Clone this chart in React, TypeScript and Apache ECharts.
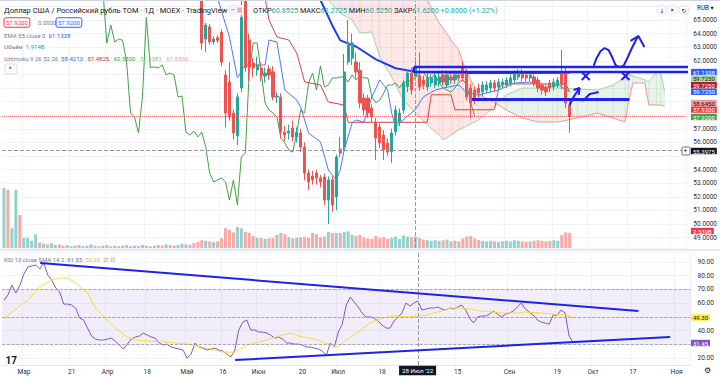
import React, { useEffect, useRef } from "react";
import * as echarts from "echarts";

// ---------- axes / categories ----------
const N = 173; // trading-day slots on the time axis (incl. future cloud area)
const categories: string[] = Array.from({ length: N }, (_, i) => String(i));
const xTicks: [number, string][] = [
  [5, "Мар"], [17, "21"], [26, "Апр"], [36, "18"], [46, "Май"], [55, "16"],
  [64, "Июн"], [75, "20"], [84, "Июл"], [95, "18"], [114, "15"], [127, "Сен"],
  [139, "19"], [148, "Окт"], [158, "17"], [169, "Ноя"],
];
const hiddenPriceTicks: number[] = [55, 58, 59, 60, 61];
const hiddenRsiTicks: number[] = [30, 50];
const crosshairIdx = 104;
const crosshairPrice = 55.3975;
const lastPrice = 57.92;

// ---------- candles (open, close, low, high), first index = candleStart ----------
const candleStart = 49;
const candles: number[][] = [
  [68.8, 67.2, 66.9, 69.2], [66.8, 63.3, 62.8, 67.2], [63.6, 64.63, 62.65, 64.78], [64.49, 63.38, 63.2, 64.7],
  [63.4, 63.6, 63.2, 63.8], [63.7, 63.5, 63.3, 63.9], [64.1, 61.9, 61.6, 64.3], [60.96, 58.16, 57.1, 61.3],
  [60.44, 57.87, 57.6, 61.9], [58.16, 56.69, 56.2, 58.4], [56.47, 59.34, 55.8, 59.6], [60.0, 65.2, 59.7, 66.6],
  [66.4, 61.5, 61.2, 67.0], [63.53, 61.54, 60.5, 64.0], [61.84, 61.47, 60.8, 62.2], [61.32, 61.69, 60.9, 62.3],
  [61.47, 60.96, 60.5, 61.9], [60.88, 61.1, 60.4, 61.5], [61.4, 60.96, 60.6, 61.7], [61.18, 59.34, 59.1, 61.6],
  [59.34, 59.41, 58.9, 59.7], [59.34, 56.76, 56.3, 59.6], [56.76, 56.54, 56.1, 57.2], [56.69, 56.84, 56.2, 57.3],
  [57.06, 56.4, 56.1, 57.6], [56.4, 56.76, 56.0, 57.1], [56.69, 55.66, 55.3, 57.0], [55.66, 53.75, 53.2, 56.0],
  [53.75, 53.09, 52.5, 54.0], [53.53, 53.24, 52.9, 53.9], [53.75, 53.38, 52.9, 54.0], [53.38, 53.09, 52.7, 53.6],
  [53.46, 51.76, 51.4, 53.7], [51.76, 53.24, 50.0, 53.5], [53.24, 51.4, 50.9, 53.5], [51.99, 54.93, 51.0, 55.1],
  [55.5, 55.2, 54.9, 56.4], [55.66, 61.18, 55.4, 62.5], [61.91, 63.31, 61.7, 65.0], [62.2, 63.31, 61.7, 64.0],
  [61.91, 61.18, 60.7, 62.6], [61.3, 58.9, 58.5, 61.9], [59.26, 58.38, 58.0, 59.6], [59.26, 58.16, 57.8, 59.5],
  [58.53, 57.87, 57.5, 58.8], [57.43, 56.32, 54.7, 57.8], [57.13, 55.96, 55.6, 57.4], [56.54, 55.44, 54.7, 56.9],
  [55.96, 55.29, 55.0, 56.3], [55.29, 56.69, 54.5, 57.0], [56.8, 58.38, 56.5, 58.7], [57.5, 58.16, 57.2, 58.5],
  [58.38, 60.37, 58.1, 60.6], [60.1, 61.1, 59.7, 61.4], [61.1, 59.85, 59.5, 61.5], [60.8525, 61.62, 60.525, 62.2725],
  [60.9, 60.07, 59.8, 62.6], [60.59, 60.22, 59.9, 60.9], [60.07, 60.74, 59.8, 61.1], [60.37, 60.74, 60.1, 61.0],
  [60.22, 60.81, 60.0, 61.1], [60.37, 60.81, 60.1, 61.1], [60.96, 60.44, 60.2, 61.3], [60.22, 60.96, 60.0, 61.3],
  [60.81, 60.59, 60.3, 61.2], [60.59, 60.96, 60.3, 61.3], [60.96, 60.74, 60.5, 61.2], [61.54, 60.74, 60.5, 61.93],
  [61.1, 59.34, 59.1, 61.4], [60.0, 58.9, 57.8, 60.3], [59.85, 59.12, 58.8, 60.1], [60.0, 59.63, 59.3, 60.3],
  [59.7, 60.22, 59.4, 60.5], [59.85, 60.22, 59.6, 60.5], [60.0, 60.37, 59.7, 60.6], [60.37, 60.0, 59.7, 60.6],
  [60.07, 60.44, 59.8, 60.7], [60.22, 60.44, 60.0, 60.7], [60.22, 60.59, 60.0, 60.8], [60.37, 60.74, 60.1, 61.0],
  [60.59, 61.1, 60.4, 61.3], [60.81, 61.18, 60.6, 61.4], [61.1, 60.74, 60.5, 61.4], [60.96, 60.74, 60.5, 61.2],
  [60.74, 60.96, 60.5, 61.2], [60.81, 60.37, 60.1, 61.0], [60.59, 60.0, 59.7, 60.8], [60.22, 59.85, 59.5, 60.4],
  [60.07, 59.7, 59.4, 60.3], [60.37, 60.0, 59.7, 60.6], [60.07, 60.44, 59.8, 60.7], [60.22, 60.59, 60.0, 60.8],
  [61.1, 60.22, 59.9, 62.8], [61.1, 58.9, 58.5, 61.5], [58.75, 57.92, 56.7, 59.0],
];

// ---------- volume (billions) ----------
// days before the first visible candle, index 0..48
const volumesEarly: number[] = [
  10.0, 9.7, 3.3, 9.7, 5.5, 1.7, 1.7, 1.2, 2.3,
  0.9, 0.7, 0.6, 0.8, 0.5, 0.6, 0.4, 0.5, 0.3, 0.4, 0.5, 0.3, 0.4, 0.6, 0.4, 0.3, 0.4, 0.5, 0.3, 0.4,
  0.3, 0.4, 0.5, 0.3, 0.4, 0.3, 0.5, 0.4, 0.3, 0.4, 0.5, 0.4, 0.6, 0.5, 0.4, 0.5, 0.7, 0.6, 0.5, 0.8,
];
// bar direction for those days (1 = up)
const volUpEarly: number[] = [
  1, 0, 1, 1, 0, 1, 1, 1, 1, 0, 1, 0, 1, 1, 0, 0, 1, 1, 0, 1, 0, 1, 1, 0, 1, 0, 0, 1, 1,
  0, 1, 0, 1, 1, 0, 1, 0, 0, 1, 1, 0, 1, 0, 0, 1, 1, 0, 1, 0,
];
// days with a candle, index 49..143
const volumesLate: number[] = [
  1.0, 1.3, 1.2, 1.1, 1.0, 1.1, 1.6, 3.3, 3.0, 2.6, 3.5, 3.3, 2.7, 2.5, 2.0, 1.7, 1.7, 1.5, 1.6, 1.7,
  2.2, 2.5, 2.3, 1.8, 1.6, 1.7, 1.8, 1.8, 1.7, 2.5, 2.3, 1.8, 1.9, 2.7, 2.5, 2.5, 2.5, 2.7, 2.8, 2.2,
  2.0, 2.2,
  1.8, 1.6, 1.5, 2.0, 1.7, 1.8, 1.5, 1.7, 1.9, 1.5, 2.1, 1.9, 1.8, 1.914, 1.7, 1.4, 1.3, 1.2, 1.3, 1.2,
  1.3, 1.4, 1.1, 1.2, 1.1, 1.6, 1.9, 2.0, 1.6, 1.3, 1.2, 1.1, 1.2, 1.1, 1.0, 1.1, 1.2, 1.1, 1.3, 1.2,
  1.1, 1.0, 1.1, 1.2, 1.3, 1.2, 1.1, 1.2, 1.3, 1.2, 2.2, 2.6, 2.539,
];

// ---------- indicators (vertex lists [index, value]) ----------
const ema55: number[][] = [
  [77, 67.3], [80, 66.47], [83, 64.6], [85, 63.5], [89, 63.05], [94, 62.1], [99, 61.45],
  [104, 61.2], [117, 61.1], [130, 61.1], [143, 61.13],
];
const tenkan: number[][] = [
  [54, 66.6], [57, 63.75], [59, 60.74], [61, 61.69], [66, 61.69], [67, 63.53], [69, 63.38], [71, 59.85],
  [74, 59.12], [75, 58.6], [77, 56.69], [80, 56.03], [82, 53.97], [84, 53.24], [85, 53.97], [86, 55.44],
  [88, 57.43], [89, 57.65], [91, 57.5], [93, 59.34], [95, 60.59], [97, 59.85], [98, 58.16], [99, 57.13],
  [100, 57.43], [104, 58.42], [106, 59.34], [109, 59.85], [111, 60.0], [115, 60.22], [117, 59.63],
  [120, 59.49], [125, 59.85], [129, 60.37], [133, 60.44], [137, 60.0], [140, 60.22], [143, 59.725],
];
const kijun: number[][] = [
  [66, 66.6], [67, 65.0], [69, 63.75], [72, 63.53], [74, 62.57], [75, 61.54], [76, 60.44], [80, 60.22],
  [82, 58.97], [86, 58.75], [87, 57.48], [107, 57.48], [108, 59.5], [113, 59.5], [114, 58.4], [124, 58.4],
  [125, 59.9], [126, 60.3], [142, 60.3], [143, 59.725],
];
const chikouShift = 24;
const cloudIdx: number[] = [79, 82, 85, 88, 90, 93, 95, 98, 101, 105, 107, 110, 111, 113, 115, 116, 118, 120,
  123, 127, 131, 135, 140, 145, 150, 154, 157, 158, 159, 162, 163, 165, 166, 167];
const leadA: number[] = [67.5, 66.47, 65.51, 65.0, 64.04, 64.12, 62.28, 60.81, 59.12, 57.87, 57.28, 56.54, 56.18,
  56.54, 56.91, 57.06, 57.35, 57.65, 58.38, 59.49, 60.0, 60.0, 60.0, 59.93, 59.85, 60.22, 60.81, 60.96, 60.88,
  60.59, 60.44, 61.18, 61.18, 59.725];
const leadB: number[] = [68.5, 68.4, 68.3, 68.2, 68.1, 68.0, 68.0, 67.9, 67.85, 67.83, 66.47, 64.78, 64.41,
  63.53, 62.79, 61.84, 60.59, 59.49, 59.12, 58.38, 57.79, 57.5, 57.5, 57.79, 58.16, 57.79, 57.5, 59.12, 60.37,
  60.37, 58.75, 58.75, 58.75, 58.645];

// ---------- RSI ----------
const rsi: number[] = [
  62, 66, 73.2, 67.4, 73.2, 81.2, 86.4, 87.1, 87.8, 84.9,
  89.3, 80.5, 76.9, 71.0, 68.1, 59.3, 59.3, 58.6, 56.4, 49.1,
  47.7, 41.8, 36.0, 33.8, 33.1, 33.1, 33.8, 34.5, 32.3, 29.4,
  26.5, 30.1, 33.8, 35.3, 36.0, 38.2, 36.7, 35.3, 34.5, 30.9,
  29.4, 30.1, 28.0, 27.2, 26.5, 25.8, 19.9, 22.8, 30.9, 28.0,
  27.2, 25.8, 26.5, 27.2, 25.8, 25.0, 22.8, 20.7, 25.8, 40.4,
  46.2, 47.7, 40.4, 40.4, 38.9, 38.9, 38.2, 36.7, 34.5, 35.3,
  33.8, 30.9, 30.9, 30.1, 30.1, 29.4, 28.0, 28.0, 27.2, 26.5,
  25.0, 22.1, 30.9, 28.0, 38.9, 44.7, 58.6, 64.5, 60.8, 57.2,
  52.8, 49.9, 49.9, 49.1, 46.9, 44.0, 41.8, 41.8, 46.9, 49.9,
  52.8, 60.1, 57.9, 60.1, 61.55, 55.0, 55.7, 56.4, 56.4, 57.2,
  55.7, 55.0, 56.4, 55.7, 57.2, 58.6, 55.0, 49.1, 45.5, 49.9,
  50.6, 50.6, 52.0, 54.2, 52.0, 49.9, 52.0, 52.8, 54.2, 57.2,
  60.1, 55.7, 53.5, 51.3, 47.7, 46.2, 45.5, 44.7, 51.3, 51.3,
  55.0, 52.8, 36.0, 31.45,
];
const rsiSma: number[][] = [
  [0, 49.1], [2, 53.5], [6, 62.3], [9, 71.8], [12, 76.9], [14, 78.3], [16, 78.3], [18, 74.7], [21, 67.4],
  [23, 56.4], [26, 47.7], [28, 41.8], [31, 35.3], [33, 33.1], [37, 32.3], [41, 31.6], [46, 30.1], [51, 27.2],
  [55, 24.3], [58, 24.3], [61, 29.4], [66, 33.1], [69, 36.0], [72, 38.2], [74, 36.0], [79, 33.1], [82, 29.4],
  [84, 28.0], [86, 33.1], [89, 38.9], [92, 45.5], [95, 49.1], [98, 50.6], [102, 49.9], [106, 51.3],
  [110, 54.2], [112, 56.4], [115, 56.4], [117, 55.7], [120, 54.2], [125, 52.8], [129, 52.8], [131, 53.5],
  [135, 52.8], [138, 52.0], [141, 51.3], [143, 49.3],
];

// ---------- user drawings (index, value) ----------
const priceDrawings: { pts: number[][]; w: number }[] = [
  { pts: [[103.6, 61.54], [173.3, 61.54], [173.3, 61.18], [103.6, 61.18], [103.6, 61.54]], w: 2.5 },
  { pts: [[118.3, 59.15], [158.1, 59.15]], w: 3 },
  { pts: [[149.07, 61.62], [149.82, 62.21], [150.83, 62.72], [151.83, 62.94], [152.84, 62.79], [153.84, 62.21],
    [154.59, 61.69], [155.6, 61.54], [156.6, 61.62], [157.6, 62.21], [158.62, 62.87], [159.63, 63.46], [160.38, 63.82]], w: 2 },
  { pts: [[158.37, 63.46], [160.38, 63.82], [161.89, 63.01]], w: 2 },
  { pts: [[142.99, 58.75], [143.99, 59.34], [145.5, 60.0]], w: 2 },
  { pts: [[144.0, 59.85], [145.5, 60.0], [145.3, 59.49]], w: 2 },
  { pts: [[146.05, 59.04], [147.06, 59.26], [148.06, 59.56], [149.32, 59.63], [150.33, 59.71]], w: 2 },
  { pts: [[146.05, 61.18], [148.06, 60.59]], w: 2 },
  { pts: [[146.05, 60.59], [148.06, 61.18]], w: 2 },
  { pts: [[156.1, 61.18], [158.1, 60.59]], w: 2 },
  { pts: [[156.1, 60.59], [158.1, 61.18]], w: 2 },
];
const rsiDrawings: number[][][] = [
  [[9.1, 89.3], [159.4, 54.2]],
  [[58.1, 18.5], [167.4, 35.3]],
];

// ---------- styling ----------
const FF = 'Roboto, "Noto Sans", "DejaVu Sans", sans-serif';
const UP = "#26A69A";
const DOWN = "#EF5350";
const DRAW = "#1E22E6";
const GRIDC = "#F0F3FA";
const VOL_UP = "#93D2CC";
const VOL_DOWN = "#F7A9A7";
const tickMap = new Map<number, string>(xTicks);

function T(x: number, y: number, text: string, fill: string, size = 6.5, extra: any = {}) {
  return {
    type: "text", x, y, z: 100, silent: true,
    style: { text, fill, font: `${size}px ${FF}`, verticalAlign: "middle", align: "left", ...extra },
  };
}
function R(x: number, y: number, text: string, rich: Record<string, string>, size = 6) {
  const r: any = {};
  Object.keys(rich).forEach((k) => { r[k] = { fill: rich[k], font: `${size}px ${FF}` }; });
  return T(x, y, text, "#787B86", size, { rich: r });
}
function box(y: number, text: string, bg: string, fg: string) {
  return T(691, y, text, fg, 6, { backgroundColor: bg, padding: [0, 2, 0, 2], lineHeight: 6.4 });
}

function buildOption(): any {
  const L = 2, W = 688.5;
  const candleData = categories.map((_, i) => {
    const k = i - candleStart;
    return k >= 0 && k < candles.length ? candles[k] : "-";
  });
  // one volume slot per category: explicit value + colour per bar
  const volData = categories.map((_, i) => {
    if (i < candleStart) {
      return { value: volumesEarly[i], itemStyle: { color: volUpEarly[i] === 1 ? VOL_UP : VOL_DOWN } };
    }
    const k = i - candleStart;
    if (k < volumesLate.length) {
      const c = candles[k];
      return { value: volumesLate[k], itemStyle: { color: c[1] >= c[0] ? VOL_UP : VOL_DOWN } };
    }
    return "-";
  });
  const chikou = candles.map((c, k) => [candleStart + k - chikouShift, c[1]]);
  const tickFn = (i: number) => tickMap.has(i);

  const lineS = (data: any, color: string, width: number, xi = 2, yi = 0, extra: any = {}) => ({
    type: "line", xAxisIndex: xi, yAxisIndex: yi, data, symbol: "none", silent: true,
    lineStyle: { color, width }, itemStyle: { color }, ...extra,
  });

  const series: any[] = [
    {
      type: "custom", xAxisIndex: 2, yAxisIndex: 0, silent: true, z: 1,
      data: cloudIdx.map((x, i) => [x, leadA[i], leadB[i]]),
      encode: { x: 0, y: [1, 2] },
      renderItem: (params: any, api: any) => {
        const i = params.dataIndex;
        if (i >= cloudIdx.length - 1) return null;
        const x0 = cloudIdx[i], x1 = cloudIdx[i + 1];
        const a0 = leadA[i], b0 = leadB[i], a1 = leadA[i + 1], b1 = leadB[i + 1];
        const P = (x: number, y: number) => api.coord([x, y]);
        const g = "rgba(67,160,71,0.12)", p = "rgba(244,67,54,0.12)";
        const d0 = a0 - b0, d1 = a1 - b1;
        const children: any[] = [];
        const poly = (pts: number[][], fill: string) =>
          children.push({ type: "polygon", shape: { points: pts }, style: { fill, stroke: fill, lineWidth: 0.5 } });
        if (d0 * d1 >= 0) {
          poly([P(x0, a0), P(x1, a1), P(x1, b1), P(x0, b0)], d0 + d1 >= 0 ? g : p);
        } else {
          const t = d0 / (d0 - d1);
          const xc = x0 + t * (x1 - x0), yc = a0 + t * (a1 - a0);
          poly([P(x0, a0), P(xc, yc), P(x0, b0)], d0 > 0 ? g : p);
          poly([P(xc, yc), P(x1, a1), P(x1, b1)], d1 > 0 ? g : p);
        }
        return { type: "group", children };
      },
    },
    { type: "bar", xAxisIndex: 0, yAxisIndex: 2, data: volData, barWidth: 3, silent: true, z: 2 },
    lineS(cloudIdx.map((x, i) => [x, leadA[i]]), "#A5D6A7", 1),
    lineS(cloudIdx.map((x, i) => [x, leadB[i]]), "#EF9A9A", 1),
    lineS(chikou, "#43A047", 1),
    lineS(kijun, "#D84343", 1),
    lineS(tenkan, "#4A7BF7", 1),
    lineS(ema55, "#2040EE", 2),
    {
      type: "candlestick", xAxisIndex: 0, yAxisIndex: 0, data: candleData, barWidth: "68%", z: 4,
      itemStyle: { color: UP, color0: DOWN, borderColor: UP, borderColor0: DOWN, borderWidth: 1 },
      markLine: {
        silent: true, symbol: ["none", "none"], label: { show: false }, animation: false,
        data: [
          { yAxis: lastPrice, lineStyle: { color: "#F23645", type: "dotted", width: 1, opacity: 0.7 } },
          { yAxis: crosshairPrice, lineStyle: { color: "#9598A1", type: "dashed", width: 1 } },
          { xAxis: String(crosshairIdx), lineStyle: { color: "#9598A1", type: "dashed", width: 1 } },
        ],
      },
    },
    {
      type: "line", xAxisIndex: 1, yAxisIndex: 1, data: rsi, symbol: "none", silent: true,
      lineStyle: { color: "#7E57C2", width: 1 }, z: 3,
      markArea: { silent: true, itemStyle: { color: "rgba(126,87,194,0.1)" }, data: [[{ yAxis: 70 }, { yAxis: 30 }]] },
      markLine: {
        silent: true, symbol: ["none", "none"], label: { show: false },
        data: [
          { yAxis: 70, lineStyle: { color: "#9598A1", type: "dashed", width: 0.8 } },
          { yAxis: 50, lineStyle: { color: "#9598A1", type: "dashed", width: 0.8 } },
          { yAxis: 30, lineStyle: { color: "#9598A1", type: "dashed", width: 0.8 } },
          { xAxis: String(crosshairIdx), lineStyle: { color: "#9598A1", type: "dashed", width: 1 } },
        ],
      },
    },
    lineS(rsiSma, "#F5DC3A", 1, 3, 1),
  ];
  priceDrawings.forEach((d) => series.push(lineS(d.pts, DRAW, d.w, 2, 0, { clip: false, z: 6 })));
  rsiDrawings.forEach((d) => series.push(lineS(d, DRAW, 2, 3, 1, { clip: false, z: 6 })));

  const labelStyle = { fontSize: 6.5, color: "#2A2E39", fontFamily: FF };

  const graphic: any[] = [
    { type: "line", shape: { x1: 0, y1: 0.5, x2: 720, y2: 0.5 }, style: { stroke: "#D1D4DC", lineWidth: 1 }, z: 90 },
    { type: "line", shape: { x1: 0, y1: 250, x2: 720, y2: 250 }, style: { stroke: "#E0E3EB", lineWidth: 1.5 }, z: 90 },
    T(4, 10, "Доллар США / Российский рубль TOM · 1Д · MOEX · TradingView", "#131722", 7.5),
    { type: "rect", shape: { x: 228, y: 5, width: 16, height: 10, r: 2 }, style: { fill: "#F0F3FA" }, z: 99 },
    T(230.5, 10, "–", "#787B86", 7),
    { type: "rect", shape: { x: 237.5, y: 7.5, width: 4.5, height: 5, r: 0.5 }, style: { fill: "#F7A9A7" }, z: 100 },
    R(253, 10, "{l|ОТКР}{v|60.8525} {l|МАКС}{v|62.2725} {l|МИН}{v|60.5250} {l|ЗАКР}{v|61.6200} {v|+0.8000 (+1.32%)}",
      { l: "#131722", v: UP }, 7.3),
    T(4, 22.5, "57.9200", "#F23645", 6, { borderColor: "#F23645", borderWidth: 1, borderRadius: 2, padding: [2, 2, 1.5, 2] }),
    T(38, 22.5, "0.0000", "#787B86", 6),
    T(56, 22.5, "57.9200", "#2962FF", 6, { borderColor: "#2962FF", borderWidth: 1, borderRadius: 2, padding: [2, 2, 1.5, 2] }),
    R(4, 35, "{l|EMA 55 close 0}  {b|61.1338}", { l: "#787B86", b: "#2962FF" }),
    R(4, 46.5, "{l|Объём}  {t|1.914B}", { l: "#787B86", t: UP }),
    R(4, 58, "{l|Ichimoku 9 26 52 26}  {b|58.4213}   {r|57.4825}   {g|60.5800}   {lg|57.8581}   {p|67.8300}",
      { l: "#787B86", b: "#2962FF", r: "#D32F2F", g: "#43A047", lg: "#81C784", p: "#EF9A9A" }),
    { type: "rect", shape: { x: 5, y: 64, width: 12, height: 10, r: 2 }, style: { fill: "#fff", stroke: "#D1D4DC", lineWidth: 0.8 }, z: 99 },
    T(8.8, 70, "^", "#131722", 7),
    T(697, 7.5, "RUB ▾", "#131722", 6.3),
    { type: "rect", shape: { x: 657, y: 6, width: 9, height: 8, r: 1.5 }, style: { fill: "#fff", stroke: "#D1D4DC", lineWidth: 0.6 }, z: 99 },
    { type: "rect", shape: { x: 668, y: 6, width: 9, height: 8, r: 1.5 }, style: { fill: "#fff", stroke: "#D1D4DC", lineWidth: 0.6 }, z: 99 },
    { type: "rect", shape: { x: 679.5, y: 6, width: 9, height: 8, r: 1.5 }, style: { fill: "#fff", stroke: "#D1D4DC", lineWidth: 0.6 }, z: 99 },
    T(659.5, 10, "↓", "#131722", 6),
    T(670, 10, "✕", "#131722", 5.5),
    T(681.5, 10, "↻", "#131722", 6),
    box(72, "61.1338", "#2962FF", "#fff"),
    box(78.6, "59.7250", "#A5D6A7", "#131722"),
    box(85.2, "59.7250", "#B71C1C", "#fff"),
    box(91.8, "59.7250", "#2962FF", "#fff"),
    box(103, "58.6450", "#EF9A9A", "#131722"),
    box(109.6, "57.9200", "#F23645", "#fff"),
    box(117, "57.9200", "#43A047", "#fff"),
    box(151, "55.3975", "#131722", "#fff"),
    { type: "rect", shape: { x: 682, y: 147, width: 8, height: 8, r: 1 }, style: { fill: "#fff", stroke: "#131722", lineWidth: 0.6 }, z: 99 },
    T(683.6, 151, "+", "#131722", 7),
    box(231, "2.539B", "#F23645", "#fff"),
    box(317.5, "49.30", "#FFEB3B", "#131722"),
    box(343, "31.45", "#7E57C2", "#fff"),
    R(4, 259, "{l|RSI 13 close SMA 14 2}  {p|61.55}  {y|50.60}  {l|∅ ∅}", { l: "#787B86", p: "#7E57C2", y: "#E6C200" }),
    T(417.6, 370.5, "28 Июл '22", "#fff", 6.2, { align: "center", backgroundColor: "#131722", padding: [2, 3, 1.5, 3] }),
    { type: "circle", shape: { cx: 12, cy: 360, r: 7 }, style: { fill: "#fff" }, z: 99 },
    T(5.5, 360.5, "17", "#131722", 10, { font: `bold 10px ${FF}` }),
    T(704, 370.5, "⚙", "#131722", 8),
  ];

  return {
    animation: false,
    backgroundColor: "#ffffff",
    grid: [
      { left: L, width: W, top: 0, height: 248 },
      { left: L, width: W, top: 252, height: 113 },
    ],
    xAxis: [
      { type: "category", gridIndex: 0, data: categories, boundaryGap: true, position: "bottom",
        axisLabel: { show: false }, axisTick: { show: false }, axisLine: { show: false },
        splitLine: { show: true, interval: tickFn, lineStyle: { color: GRIDC, width: 1 } } },
      { type: "category", gridIndex: 1, data: categories, boundaryGap: true, position: "bottom",
        axisLine: { show: true, lineStyle: { color: "#E0E3EB" } }, axisTick: { show: false },
        axisLabel: { ...labelStyle, margin: 3, interval: tickFn, formatter: (_v: string, i: number) => tickMap.get(i) || "" },
        splitLine: { show: true, interval: tickFn, lineStyle: { color: GRIDC, width: 1 } } },
      { type: "value", gridIndex: 0, min: -0.5, max: N - 0.5, show: false, position: "top" },
      { type: "value", gridIndex: 1, min: -0.5, max: N - 0.5, show: false, position: "top" },
    ],
    yAxis: [
      { type: "value", gridIndex: 0, position: "right", min: 48.2353, max: 66.4706, minInterval: 1, maxInterval: 1,
        splitNumber: 18, axisLine: { show: false }, axisTick: { show: false },
        splitLine: { show: true, lineStyle: { color: GRIDC, width: 1 } },
        axisLabel: { ...labelStyle, margin: 7,
          formatter: (v: number) => {
            const r = Math.round(v);
            return Math.abs(v - r) < 1e-6 && r >= 49 && r <= 65 && hiddenPriceTicks.indexOf(r) < 0 ? v.toFixed(4) : "";
          } } },
      { type: "value", gridIndex: 1, position: "right", min: 14.89, max: 97.29, minInterval: 10, maxInterval: 10,
        splitNumber: 8, axisLine: { show: false }, axisTick: { show: false },
        splitLine: { show: true, lineStyle: { color: GRIDC, width: 1 } },
        axisLabel: { ...labelStyle, margin: 7,
          formatter: (v: number) => {
            const r = Math.round(v / 10) * 10;
            return Math.abs(v - r) < 1e-6 && r >= 20 && r <= 90 && hiddenRsiTicks.indexOf(r) < 0 ? v.toFixed(2) : "";
          } } },
      // volume scale on the main pane: 6 px per billion from the pane bottom
      { type: "value", gridIndex: 0, position: "left", min: 0, max: 41.333, show: false },
    ],
    series,
    graphic,
  };
}

export default function App() {
  const ref = useRef<HTMLDivElement>(null);
  useEffect(() => {
    document.body.style.margin = "0";
    const chart = echarts.init(ref.current as HTMLDivElement, null, { renderer: "svg", width: 720, height: 376 });
    chart.setOption(buildOption());
    return () => chart.dispose();
  }, []);
  return <div ref={ref} style={{ width: 720, height: 376, position: "absolute", left: 0, top: 0 }} />;
}
